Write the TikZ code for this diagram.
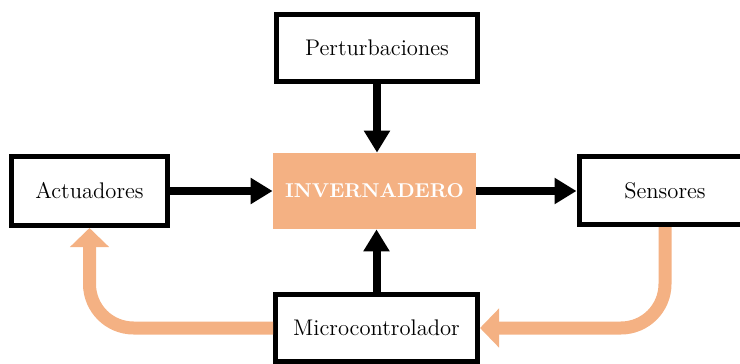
\documentclass[tikz,border=0pt]{standalone}
\usetikzlibrary{arrows.meta}
\definecolor{naranja}{HTML}{F4B183}
\tikzset{
  bloque/.style={draw, line width=2.5pt, inner sep=0pt, font=\fontsize{11.3}{13.5}\selectfont},
  flecha/.style={line width=4pt, -{Triangle[width=12.5pt,length=11pt]}},
  retro/.style={naranja, line width=6.5pt, rounded corners=22pt, -{Triangle[width=19pt,length=9.5pt]}}
}
\begin{document}
\begin{tikzpicture}[x=0.5pt, y=-0.5pt]
      \useasboundingbox (0,0) rectangle (740,364);
      \clip (0,0) rectangle (740,364);
      \draw
        (377,48) node[bloque, minimum width=100.5pt, minimum height=33.5pt] (pert){Perturbaciones}
        (374.5,191) node[fill=naranja, text=white, minimum width=101.5pt, minimum height=38pt, font=\bfseries] (inv){INVERNADERO}
        (89.5,191) node[bloque, minimum width=78pt, minimum height=34.5pt] (act){Actuadores}
        (665,190.5) node[bloque, minimum width=86pt, minimum height=34pt] (sen){Sensores}
        (376.5,328) node[bloque, minimum width=101pt, minimum height=33.5pt] (mic){Microcontrolador};
      \begin{scope}[flecha]
        \draw (pert.south) to (pert.south |- inv.north);
        \draw (act.east) to (act.east -| inv.west);
        \draw (inv.east) to (inv.east -| sen.west);
        \draw (mic.north) to (mic.north |- inv.south);
      \end{scope}
      \begin{scope}[retro]
        \draw (sen.south) |- (mic.east);
        \draw (mic.west) -| (act.south);
      \end{scope}
    \end{tikzpicture}
\end{document}
